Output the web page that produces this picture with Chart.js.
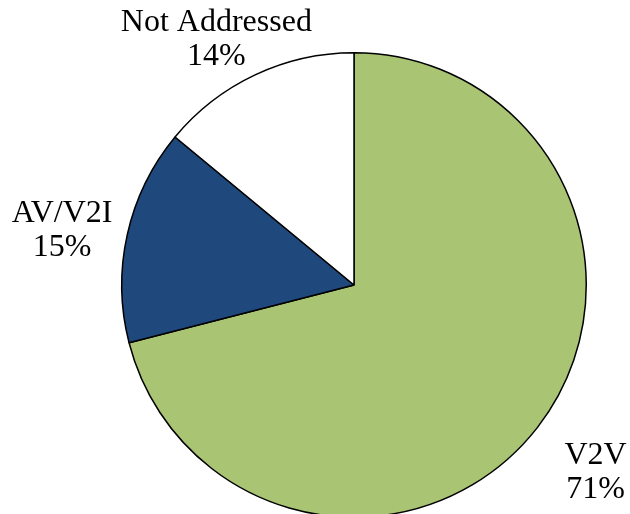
<!DOCTYPE html>
<html>
<head>
<meta charset="utf-8">
<script src="https://cdn.jsdelivr.net/npm/chart.js@4.4.1/dist/chart.umd.min.js"></script>
<style>
  html, body { margin: 0; padding: 0; background: #fff; overflow: hidden; }
  #wrap { width: 630px; height: 522px; position: relative; }
</style>
</head>
<body>
<div id="wrap"><canvas id="pie"></canvas></div>
<script>
// chart data
var categories = ['V2V', 'AV/V2I', 'Not Addressed'];
var shares = [71, 15, 14];
var sliceColors = ['#A9C574', '#1F497D', '#FFFFFF'];

// label placement: distance along slice middle (x radius) plus a small nudge in px
var labelDistance = [1.30, 1.27, 1.22];
var labelNudge = [[3, 3], [-4, 10], [-17, 11]];

var outsideLabels = {
  id: 'outsideLabels',
  afterDraw: function(chart) {
    var ctx = chart.ctx;
    var meta = chart.getDatasetMeta(0);
    ctx.save();
    ctx.fillStyle = '#000';
    ctx.font = '32px "Liberation Serif", "Times New Roman", serif';
    ctx.textAlign = 'center';
    ctx.textBaseline = 'middle';
    meta.data.forEach(function(arc, i) {
      var p = arc.getProps(['x', 'y', 'startAngle', 'endAngle', 'outerRadius'], true);
      var mid = (p.startAngle + p.endAngle) / 2;
      var d = p.outerRadius * labelDistance[i];
      var cx = p.x + Math.cos(mid) * d + labelNudge[i][0];
      var cy = p.y + Math.sin(mid) * d + labelNudge[i][1];
      ctx.fillText(categories[i], cx, cy - 17);
      ctx.fillText(shares[i] + '%', cx, cy + 17);
    });
    ctx.restore();
  }
};

new Chart(document.getElementById('pie'), {
  type: 'pie',
  data: {
    labels: categories,
    datasets: [{
      data: shares,
      backgroundColor: sliceColors,
      borderColor: '#000',
      borderWidth: 1.5
    }]
  },
  options: {
    responsive: true,
    maintainAspectRatio: false,
    animation: false,
    layout: { padding: { left: 121, right: 43, top: 52, bottom: 4 } },
    plugins: {
      legend: { display: false },
      tooltip: { enabled: false }
    }
  },
  plugins: [outsideLabels]
});
</script>
</body>
</html>
